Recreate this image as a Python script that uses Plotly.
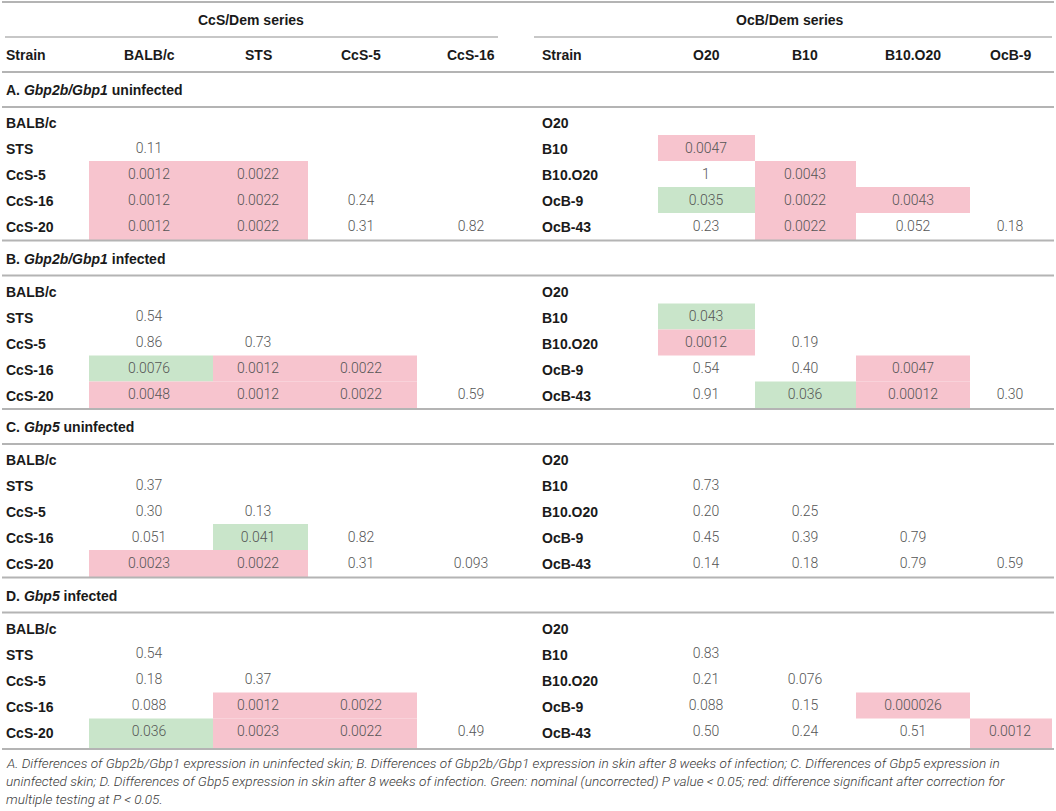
import plotly.graph_objects as go

# --- table content ---
LEFT_SERIES = "CcS/Dem series"
RIGHT_SERIES = "OcB/Dem series"
LEFT_STRAINS = ["BALB/c", "STS", "CcS-5", "CcS-16", "CcS-20"]
RIGHT_STRAINS = ["O20", "B10", "B10.O20", "OcB-9", "OcB-43"]
SECTION_TITLES = ["A. <i>Gbp2b/Gbp1</i> uninfected", "B. <i>Gbp2b/Gbp1</i> infected",
                  "C. <i>Gbp5</i> uninfected", "D. <i>Gbp5</i> infected"]

# P values, lower triangle; SIG: r = significant after correction, g = nominal, - = none
A_LEFT = [[], ["0.11"], ["0.0012", "0.0022"], ["0.0012", "0.0022", "0.24"],
          ["0.0012", "0.0022", "0.31", "0.82"]]
A_LEFT_SIG = ["", "-", "rr", "rr-", "rr--"]
A_RIGHT = [[], ["0.0047"], ["1", "0.0043"], ["0.035", "0.0022", "0.0043"],
           ["0.23", "0.0022", "0.052", "0.18"]]
A_RIGHT_SIG = ["", "r", "-r", "grr", "-r--"]

B_LEFT = [[], ["0.54"], ["0.86", "0.73"], ["0.0076", "0.0012", "0.0022"],
          ["0.0048", "0.0012", "0.0022", "0.59"]]
B_LEFT_SIG = ["", "-", "--", "grr", "rrr-"]
B_RIGHT = [[], ["0.043"], ["0.0012", "0.19"], ["0.54", "0.40", "0.0047"],
           ["0.91", "0.036", "0.00012", "0.30"]]
B_RIGHT_SIG = ["", "g", "r-", "--r", "-gr-"]

C_LEFT = [[], ["0.37"], ["0.30", "0.13"], ["0.051", "0.041", "0.82"],
          ["0.0023", "0.0022", "0.31", "0.093"]]
C_LEFT_SIG = ["", "-", "--", "-g-", "rr--"]
C_RIGHT = [[], ["0.73"], ["0.20", "0.25"], ["0.45", "0.39", "0.79"],
           ["0.14", "0.18", "0.79", "0.59"]]
C_RIGHT_SIG = ["", "-", "--", "---", "----"]

D_LEFT = [[], ["0.54"], ["0.18", "0.37"], ["0.088", "0.0012", "0.0022"],
          ["0.036", "0.0023", "0.0022", "0.49"]]
D_LEFT_SIG = ["", "-", "--", "-rr", "grr-"]
D_RIGHT = [[], ["0.83"], ["0.21", "0.076"], ["0.088", "0.15", "0.000026"],
           ["0.50", "0.24", "0.51", "0.0012"]]
D_RIGHT_SIG = ["", "-", "--", "--r", "---r"]

FOOTNOTE = [
    "A. Differences of Gbp2b/Gbp1 expression in uninfected skin; B. Differences of Gbp2b/Gbp1 expression in skin after 8 weeks of infection; C. Differences of Gbp5 expression in",
    "uninfected skin; D. Differences of Gbp5 expression in skin after 8 weeks of infection. Green: nominal (uncorrected) P value < 0.05; red: difference significant after correction for",
    "multiple testing at P < 0.05.",
]

# --- layout constants (pixel-like axis units) ---
W, H = 1056, 811
LEFT_EDGES = [89, 213, 308, 417, 522]
RIGHT_EDGES = [658, 755, 856, 970, 1052]
LEFT_CENTERS = [149, 258, 361, 471]
RIGHT_CENTERS = [706, 805, 913, 1010]
LEFT_LABEL_X, RIGHT_LABEL_X = 4, 540
SECTION_STEP = 168.5
FIRST_SECTION = 72
TABLE_BOTTOM = 749
ROW_H = 26

LINE_COLOR = "#b4b4b4"
FILLS = {"r": "#f7c4ce", "g": "#c9e5ca"}
BOLD = dict(family="Liberation Sans, Arial", size=14, color="#1a1a1a")

shapes = []
annotations = []
vx, vy, vt = [], [], []


def hline(x0, x1, y, width=2):
    shapes.append(dict(type="line", xref="x", yref="y", x0=x0, x1=x1, y0=y, y1=y,
                       line=dict(color=LINE_COLOR, width=width), layer="above"))


def label(x, y, text, anchor="left"):
    annotations.append(dict(x=x, y=y, xref="x", yref="y", text="<b>" + text + "</b>",
                            showarrow=False, xanchor=anchor, yanchor="middle", font=BOLD))


# header block
hline(2, 1054, 2)
label(251, 20, LEFT_SERIES, "center")
label(790, 20, RIGHT_SERIES, "center")
hline(5, 498, 37, 1.5)
hline(534, 1052, 37, 1.5)
label(LEFT_LABEL_X, 55, "Strain")
label(RIGHT_LABEL_X, 55, "Strain")
for j in range(4):
    label(LEFT_CENTERS[j], 55, LEFT_STRAINS[j], "center")
    label(RIGHT_CENTERS[j], 55, RIGHT_STRAINS[j], "center")
hline(2, 1054, 72)

sections = [(A_LEFT, A_LEFT_SIG, A_RIGHT, A_RIGHT_SIG),
            (B_LEFT, B_LEFT_SIG, B_RIGHT, B_RIGHT_SIG),
            (C_LEFT, C_LEFT_SIG, C_RIGHT, C_RIGHT_SIG),
            (D_LEFT, D_LEFT_SIG, D_RIGHT, D_RIGHT_SIG)]

for s, (lv, ls, rv, rs) in enumerate(sections):
    top = FIRST_SECTION + SECTION_STEP * s
    end = TABLE_BOTTOM if s == 3 else top + SECTION_STEP
    label(LEFT_LABEL_X, top + 18, SECTION_TITLES[s])
    line_y = top + 35
    hline(2, 1054, line_y)
    hline(2, 1054, end)
    for side in range(2):
        vals, sig = (lv, ls) if side == 0 else (rv, rs)
        edges = LEFT_EDGES if side == 0 else RIGHT_EDGES
        centers = LEFT_CENTERS if side == 0 else RIGHT_CENTERS
        names = LEFT_STRAINS if side == 0 else RIGHT_STRAINS
        lx = LEFT_LABEL_X if side == 0 else RIGHT_LABEL_X
        for i in range(5):
            cy = line_y + 16 + ROW_H * i
            label(lx, cy, names[i])
            r0 = line_y + 2 + ROW_H * i
            r1 = end if i == 4 else r0 + ROW_H
            for j, v in enumerate(vals[i]):
                flag = sig[i][j]
                if flag in FILLS:
                    shapes.append(dict(type="rect", xref="x", yref="y",
                                       x0=edges[j], x1=edges[j + 1], y0=r0, y1=r1,
                                       fillcolor=FILLS[flag], line=dict(width=0), layer="below"))
                vx.append(centers[j])
                vy.append(cy)
                vt.append(v)

for k, line in enumerate(FOOTNOTE):
    annotations.append(dict(x=4, y=763 + 18 * k, xref="x", yref="y", text="<i>" + line + "</i>",
                            showarrow=False, xanchor="left", yanchor="middle",
                            font=dict(family="Roboto", size=13.6, color="#3a3a3a", weight=300)))

fig = go.Figure()
fig.add_trace(go.Scatter(x=vx, y=vy, text=vt, mode="text", textposition="middle center",
                         textfont=dict(family="Roboto", size=14, color="#555555", weight=300),
                         hoverinfo="skip", showlegend=False))

fig.update_layout(
    width=W, height=H,
    margin=dict(l=0, r=0, t=0, b=0),
    paper_bgcolor="white", plot_bgcolor="white",
    xaxis=dict(range=[0, W], visible=False, fixedrange=True),
    yaxis=dict(range=[H, 0], visible=False, fixedrange=True),
    shapes=shapes, annotations=annotations,
)

# the page body has a default 8px margin; drop it so the figure fills the window exactly
fig.write_html("out.html", config={"displayModeBar": False},
               post_script="document.body.style.margin='0';")
